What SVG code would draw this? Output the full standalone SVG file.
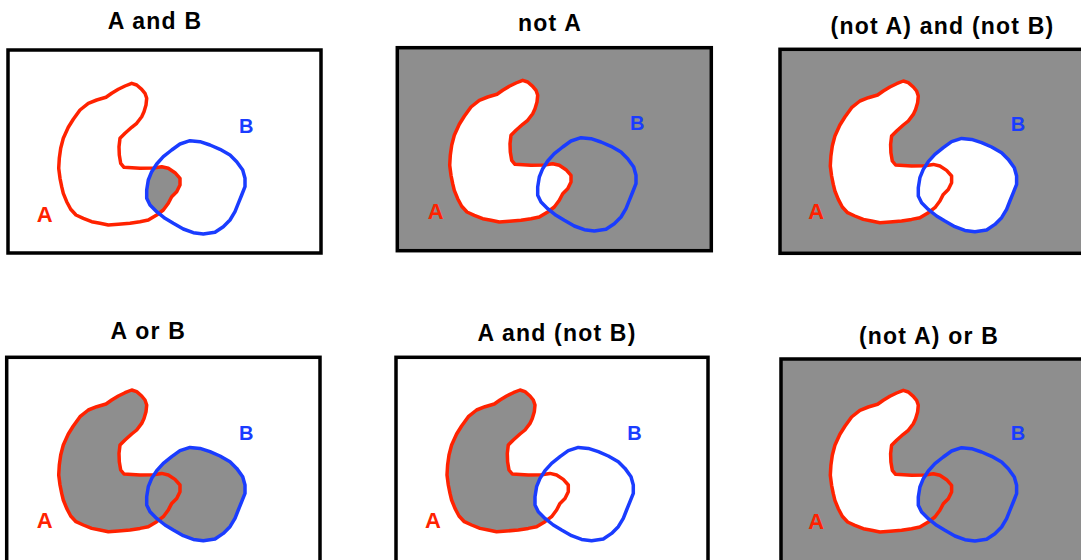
<svg xmlns="http://www.w3.org/2000/svg" xmlns:xlink="http://www.w3.org/1999/xlink" width="1081" height="560" viewBox="0 0 1081 560">
<style>
.title{font-family:"Liberation Sans",Arial,sans-serif;font-weight:bold;font-size:23px;letter-spacing:1.2px;fill:#000;text-anchor:middle}
.frame{stroke:#000;stroke-width:3.5}
.w{fill:#fff}
.g{fill:#8e8e8e}
.ra{fill:none;stroke:#ff2200;stroke-width:3.5;stroke-linejoin:round}
.rb{fill:none;stroke:#1a3cff;stroke-width:3.5;stroke-linejoin:round}
.la{font-family:"Liberation Sans",Arial,sans-serif;font-weight:bold;font-size:22px;fill:#ff2200;text-anchor:middle}
.lb{font-family:"Liberation Sans",Arial,sans-serif;font-weight:bold;font-size:20px;fill:#1a3cff;text-anchor:middle}
</style>
<defs>
<path id="shA" d="M131.7,83.3 L136.7,85 L141.7,89.3 L145,93.3 L146.7,98.3 L146,105 L144,111.7 L141.7,116.7 L136.7,123.3 L131.7,127.3 L125,133.3 L120,138.3 L119,146.7 L119.3,155 L120.7,163.3 L124,167.3 L140,168.3 L153.3,168 L161.7,166.7 L168.3,168.3 L175,172.7 L180,178.3 L180,185 L176.7,191.7 L171.7,196.7 L168.3,203.3 L163.3,210 L156.7,215 L148.3,220 L140,221.7 L130,223.3 L118.3,224.3 L108.3,225 L100,223.3 L91.7,221.7 L83.3,218.3 L76,215 L70.7,209.3 L66.7,201.7 L63.3,193.3 L61.7,186.7 L60,178.3 L58.7,168.3 L59.3,158.3 L60.7,148.3 L63.3,138.3 L68.3,127.3 L73.3,119.3 L80,110 L88.3,103.3 L96.7,100 L106,97.3 L111.7,93.3 L118.3,89.3 L125,86 Z"/>
<path id="shB" d="M190,140.7 L200,141.7 L210,145 L220,149.3 L230,155 L236.7,161.7 L242.7,170 L245,178.3 L245,186.7 L241.7,195 L238.3,203.3 L235,211.7 L230,220 L223.3,226.7 L215,232.3 L203.3,234 L193.3,232.7 L183.3,229 L173.3,223.3 L165,218.3 L156.7,211.7 L150,205 L146.7,198.3 L146.7,190 L148.3,180 L151.7,171.7 L156.7,164 L163.3,156.7 L171.7,150 L180,144 Z"/>
<clipPath id="clipB"><use xlink:href="#shB"/></clipPath>
<g id="outlines">
<use xlink:href="#shA" class="ra"/>
<use xlink:href="#shB" class="rb"/>
<text class="la" x="44.7" y="221.7">A</text>
<text class="lb" x="246.3" y="133.3">B</text>
</g>
</defs>

<g id="panel-a-and-b">
<text class="title" x="155" y="29.3">A and B</text>
<rect class="frame w" x="8" y="50" width="313" height="203"/>
<g>
<use xlink:href="#shA" class="g" clip-path="url(#clipB)"/>
<use xlink:href="#outlines"/>
</g>
</g>

<g id="panel-not-a">
<text class="title" x="550" y="30.7">not A</text>
<rect class="frame g" x="397.3" y="47.7" width="314" height="203"/>
<g transform="translate(391,-3)">
<use xlink:href="#shA" class="w"/>
<use xlink:href="#outlines"/>
</g>
</g>

<g id="panel-nota-and-notb">
<text class="title" x="942.5" y="34.3">(not A) and (not B)</text>
<rect class="frame g" x="780" y="49.3" width="320" height="204"/>
<g transform="translate(771.6,-2.3)">
<use xlink:href="#shA" class="w"/>
<use xlink:href="#shB" class="w"/>
<use xlink:href="#outlines"/>
</g>
</g>

<g id="panel-a-or-b">
<text class="title" x="148.3" y="339.3">A or B</text>
<rect class="frame w" x="6.7" y="357.3" width="313.3" height="210"/>
<g transform="translate(0,306.7)">
<use xlink:href="#shA" class="g"/>
<use xlink:href="#shB" class="g"/>
<use xlink:href="#outlines"/>
</g>
</g>

<g id="panel-a-and-notb">
<text class="title" x="557" y="340.5">A and (not B)</text>
<rect class="frame w" x="396" y="357.3" width="312" height="210"/>
<g transform="translate(388.3,306.7)">
<use xlink:href="#shA" class="g"/>
<use xlink:href="#shB" class="w"/>
<use xlink:href="#outlines"/>
</g>
</g>

<g id="panel-nota-or-b">
<text class="title" x="929" y="344.3">(not A) or B</text>
<rect class="frame g" x="781" y="359" width="320" height="210"/>
<g transform="translate(771.6,307)">
<use xlink:href="#shA" class="w"/>
<use xlink:href="#shB" class="g"/>
<use xlink:href="#outlines"/>
</g>
</g>

<g id="connectors"/>
</svg>
